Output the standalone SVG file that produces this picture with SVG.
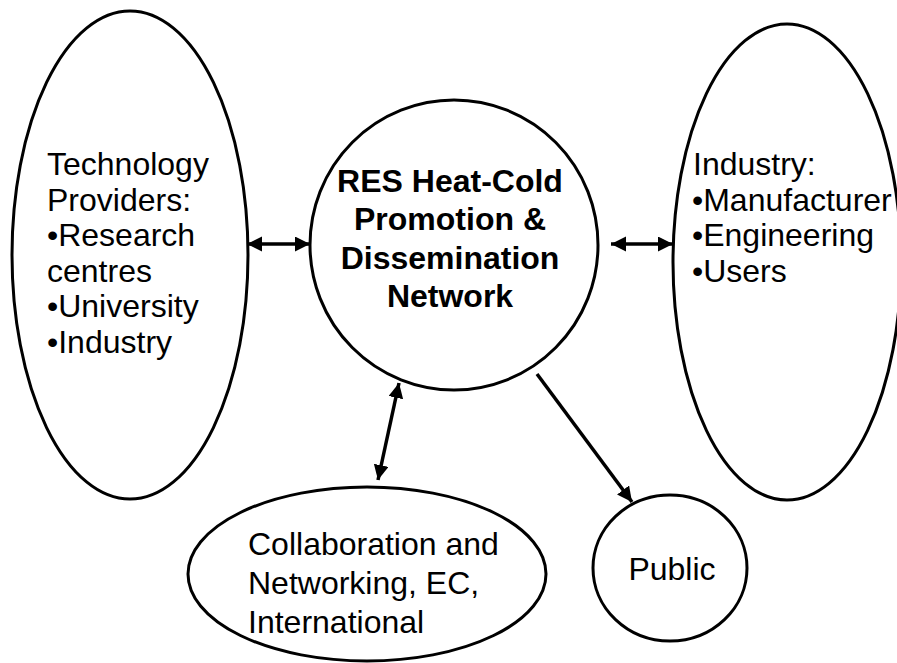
<svg xmlns="http://www.w3.org/2000/svg" width="897" height="663" viewBox="0 0 897 663">
<style>
.shape{fill:#fff;stroke:#000;stroke-width:3}
.t{font-family:"Liberation Sans",Arial,sans-serif;font-size:32px;fill:#000}
.b{font-weight:bold}
.conn{stroke:#000;stroke-width:3.5;fill:none}
</style>
<defs>
<marker id="ah" markerUnits="userSpaceOnUse" markerWidth="16" markerHeight="16" refX="15" refY="7.5" orient="auto-start-reverse" viewBox="0 0 16 16">
<path d="M0,0 L15,7.5 L0,15 z" fill="#000"/>
</marker>
</defs>
<rect width="897" height="663" fill="#fff"/>
<g id="node-tech">
<ellipse class="shape" cx="130" cy="255" rx="118" ry="244"/>
<text class="t" x="47" y="175">Technology</text>
<text class="t" x="47" y="210.5">Providers:</text>
<text class="t" x="47" y="246">•Research</text>
<text class="t" x="47" y="281.5">centres</text>
<text class="t" x="47" y="317">•University</text>
<text class="t" x="47" y="352.5">•Industry</text>
</g>
<g id="node-industry">
<ellipse class="shape" cx="787" cy="262" rx="114" ry="238"/>
<text class="t" x="693" y="175">Industry:</text>
<text class="t" x="692" y="210.5">•Manufacturer</text>
<text class="t" x="692" y="246">•Engineering</text>
<text class="t" x="692" y="281.5">•Users</text>
</g>
<g id="node-res">
<ellipse class="shape" cx="454" cy="245" rx="144" ry="145"/>
<text class="t b" x="450" y="192" text-anchor="middle">RES Heat-Cold</text>
<text class="t b" x="450" y="230" text-anchor="middle">Promotion &amp;</text>
<text class="t b" x="450" y="268.5" text-anchor="middle">Dissemination</text>
<text class="t b" x="450" y="307" text-anchor="middle">Network</text>
</g>
<g id="node-collab">
<ellipse class="shape" cx="367" cy="574" rx="179" ry="87"/>
<text class="t" x="248" y="555">Collaboration and</text>
<text class="t" x="248" y="594">Networking, EC,</text>
<text class="t" x="248" y="633">International</text>
</g>
<g id="node-public">
<ellipse class="shape" cx="670" cy="568" rx="77" ry="73"/>
<text class="t" x="672" y="580" text-anchor="middle">Public</text>
</g>
<g id="connectors">
<line class="conn" x1="247" y1="244" x2="310" y2="244" marker-start="url(#ah)" marker-end="url(#ah)"/>
<line class="conn" x1="611" y1="244" x2="673" y2="244" marker-start="url(#ah)" marker-end="url(#ah)"/>
<line class="conn" x1="399" y1="383" x2="378" y2="480" marker-start="url(#ah)" marker-end="url(#ah)"/>
<line class="conn" x1="537" y1="374" x2="632" y2="502" marker-end="url(#ah)"/>
</g>
</svg>
